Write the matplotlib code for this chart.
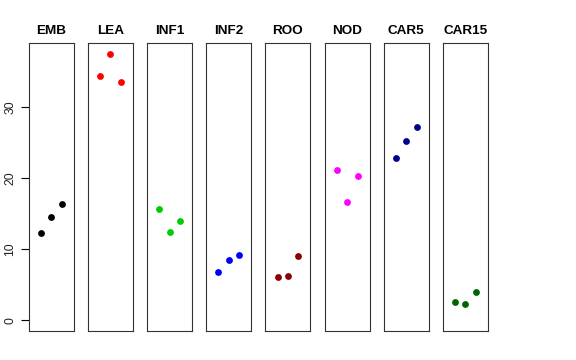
import matplotlib
matplotlib.use("Agg")
import matplotlib.pyplot as plt

plt.rcParams["font.family"] = ["Liberation Sans", "DejaVu Sans"]

# one panel per tissue, three replicates each
tissues = ["EMB", "LEA", "INF1", "INF2", "ROO", "NOD", "CAR5", "CAR15"]
reps = [1, 2, 3]
values = [
    [12.3, 14.5, 16.3],
    [34.4, 37.5, 33.5],
    [15.6, 12.4, 14.0],
    [6.8, 8.45, 9.25],
    [6.06, 6.24, 9.01],
    [21.2, 16.7, 20.3],
    [22.8, 25.2, 27.2],
    [2.6, 2.3, 4.0],
]
colors = ["black", "red", "#00CD00", "blue", "#8B0000", "magenta", "#00008B", "#006400"]
yticks = [0, 10, 20, 30]

fig, axes = plt.subplots(1, len(tissues), figsize=(5.76, 3.6), dpi=100, sharey=True)
fig.subplots_adjust(left=28.7 / 576, right=488 / 576, top=1 - 43 / 360,
                    bottom=1 - 331 / 360, wspace=0.315)

for i, ax in enumerate(axes):
    ax.scatter(reps, values[i], s=24, color=colors[i], linewidths=0, zorder=3)
    ax.set_xlim(-0.16, 4.16)
    ax.set_ylim(-1.5, 39.0)
    ax.set_xticks([])
    ax.set_title(tissues[i], fontsize=9.7, fontweight="bold", pad=6.5)
    for s in ax.spines.values():
        s.set_linewidth(0.8)
        s.set_color("#333333")
    if i == 0:
        ax.set_yticks(yticks)
        ax.tick_params(axis="y", length=6, width=0.8, labelsize=8.7, pad=3,
                       labelcolor="#222222")
        for lab in ax.get_yticklabels():
            lab.set_rotation(90)
            lab.set_va("center")
    else:
        ax.tick_params(axis="y", left=False, labelleft=False)

fig.savefig("out.png", dpi=100)
